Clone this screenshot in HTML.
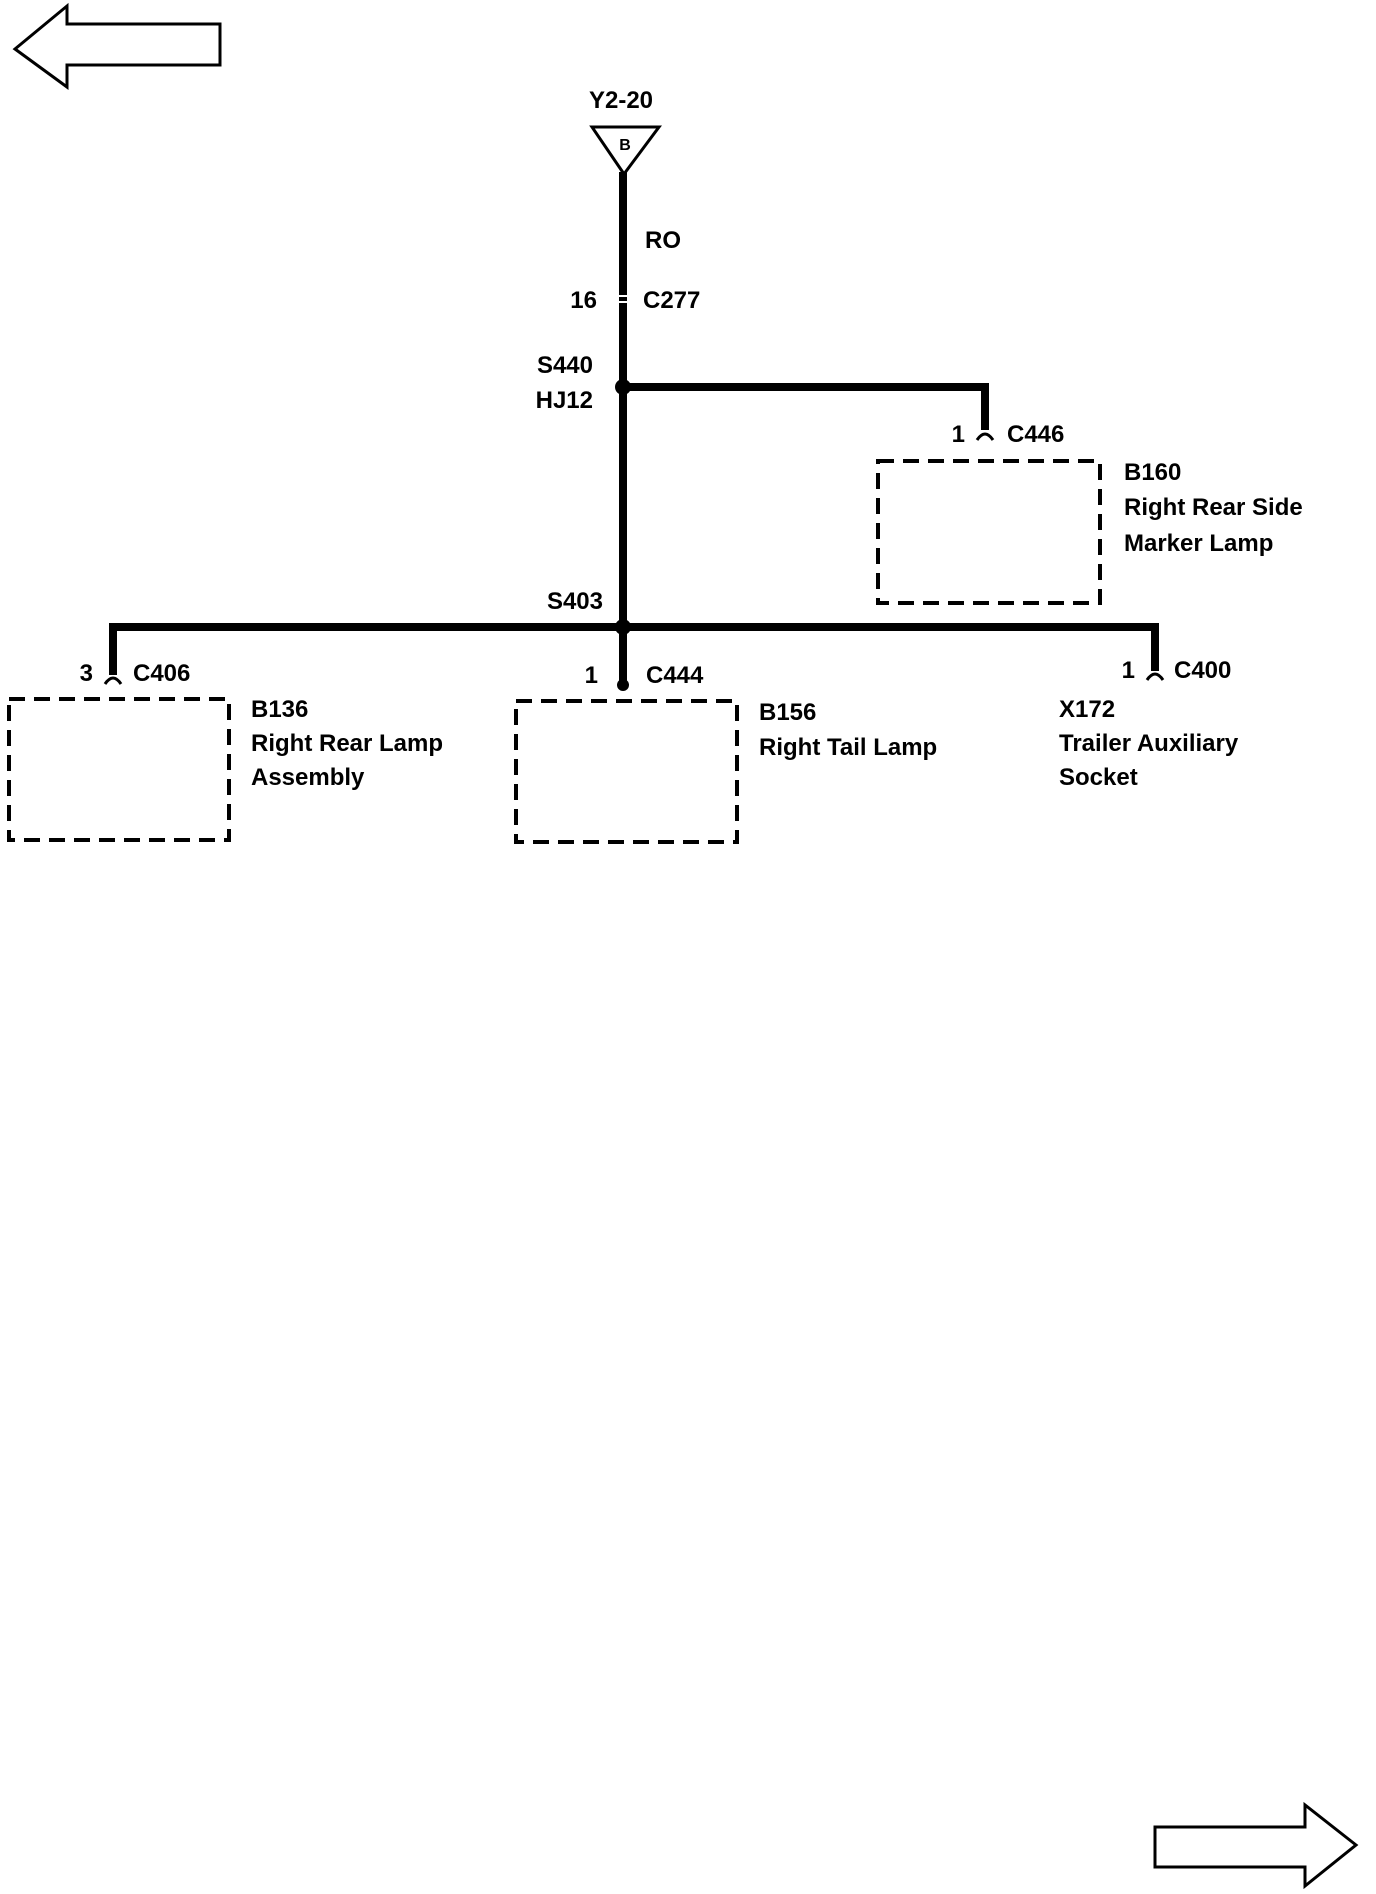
<!DOCTYPE html>
<html><head><style>body{margin:0;background:#fff}svg{display:block}text{font-family:"Liberation Sans",sans-serif;font-weight:bold;font-size:24px;fill:#000}</style></head>
<body>
<svg width="1376" height="1894" viewBox="0 0 1376 1894" xmlns="http://www.w3.org/2000/svg">
<polygon points="15,49 67,6 67,24 220,24 220,65 67,65 67,87" fill="none" stroke="#000" stroke-width="3"/>
<polygon points="1356,1845 1305,1805 1305,1827 1155,1827 1155,1867 1305,1867 1305,1886" fill="none" stroke="#000" stroke-width="3"/>
<text x="621" y="108" text-anchor="middle">Y2-20</text>
<polygon points="592,127 659,127 624,174" fill="none" stroke="#000" stroke-width="3"/>
<text x="625" y="150" text-anchor="middle" style="font-size:16px">B</text>
<g stroke="#000" stroke-width="8" fill="none">
<line x1="623" y1="172" x2="623" y2="627"/>
<polyline points="623,387 985,387 985,430"/>
<polyline points="113,675 113,627 1155,627 1155,671"/>
<line x1="623" y1="627" x2="623" y2="683"/>
</g>
<g stroke="#fff" stroke-width="2"><line x1="617" y1="296" x2="629" y2="296"/><line x1="617" y1="302" x2="629" y2="302"/></g>
<g fill="#000"><circle cx="623" cy="387" r="8"/><circle cx="623" cy="627" r="8"/><circle cx="623" cy="685" r="6"/></g>
<g stroke="#000" stroke-width="3" fill="none">
<path d="M977,440 Q985,428 993,440"/><path d="M105,684 Q113,672 121,684"/><path d="M1147,680 Q1155,668 1163,680"/>
</g>
<g stroke="#000" stroke-width="4" fill="none" stroke-dasharray="16,9">
<rect x="878" y="461" width="222" height="142"/>
<rect x="9" y="699" width="220" height="141"/>
<rect x="516" y="701" width="221" height="141"/>
</g>
<text x="645" y="248">RO</text>
<text x="597" y="308" text-anchor="end">16</text><text x="643" y="308">C277</text>
<text x="593" y="373" text-anchor="end">S440</text><text x="593" y="408" text-anchor="end">HJ12</text>
<text x="965" y="442" text-anchor="end">1</text><text x="1007" y="442">C446</text>
<text x="1124" y="480">B160</text><text x="1124" y="515">Right Rear Side</text><text x="1124" y="551">Marker Lamp</text>
<text x="603" y="609" text-anchor="end">S403</text>
<text x="93" y="681" text-anchor="end">3</text><text x="133" y="681">C406</text>
<text x="598" y="683" text-anchor="end">1</text><text x="646" y="683">C444</text>
<text x="1135" y="678" text-anchor="end">1</text><text x="1174" y="678">C400</text>
<text x="251" y="717">B136</text><text x="251" y="751">Right Rear Lamp</text><text x="251" y="785">Assembly</text>
<text x="759" y="720">B156</text><text x="759" y="755">Right Tail Lamp</text>
<text x="1059" y="717">X172</text><text x="1059" y="751">Trailer Auxiliary</text><text x="1059" y="785">Socket</text>
</svg>
</body></html>
